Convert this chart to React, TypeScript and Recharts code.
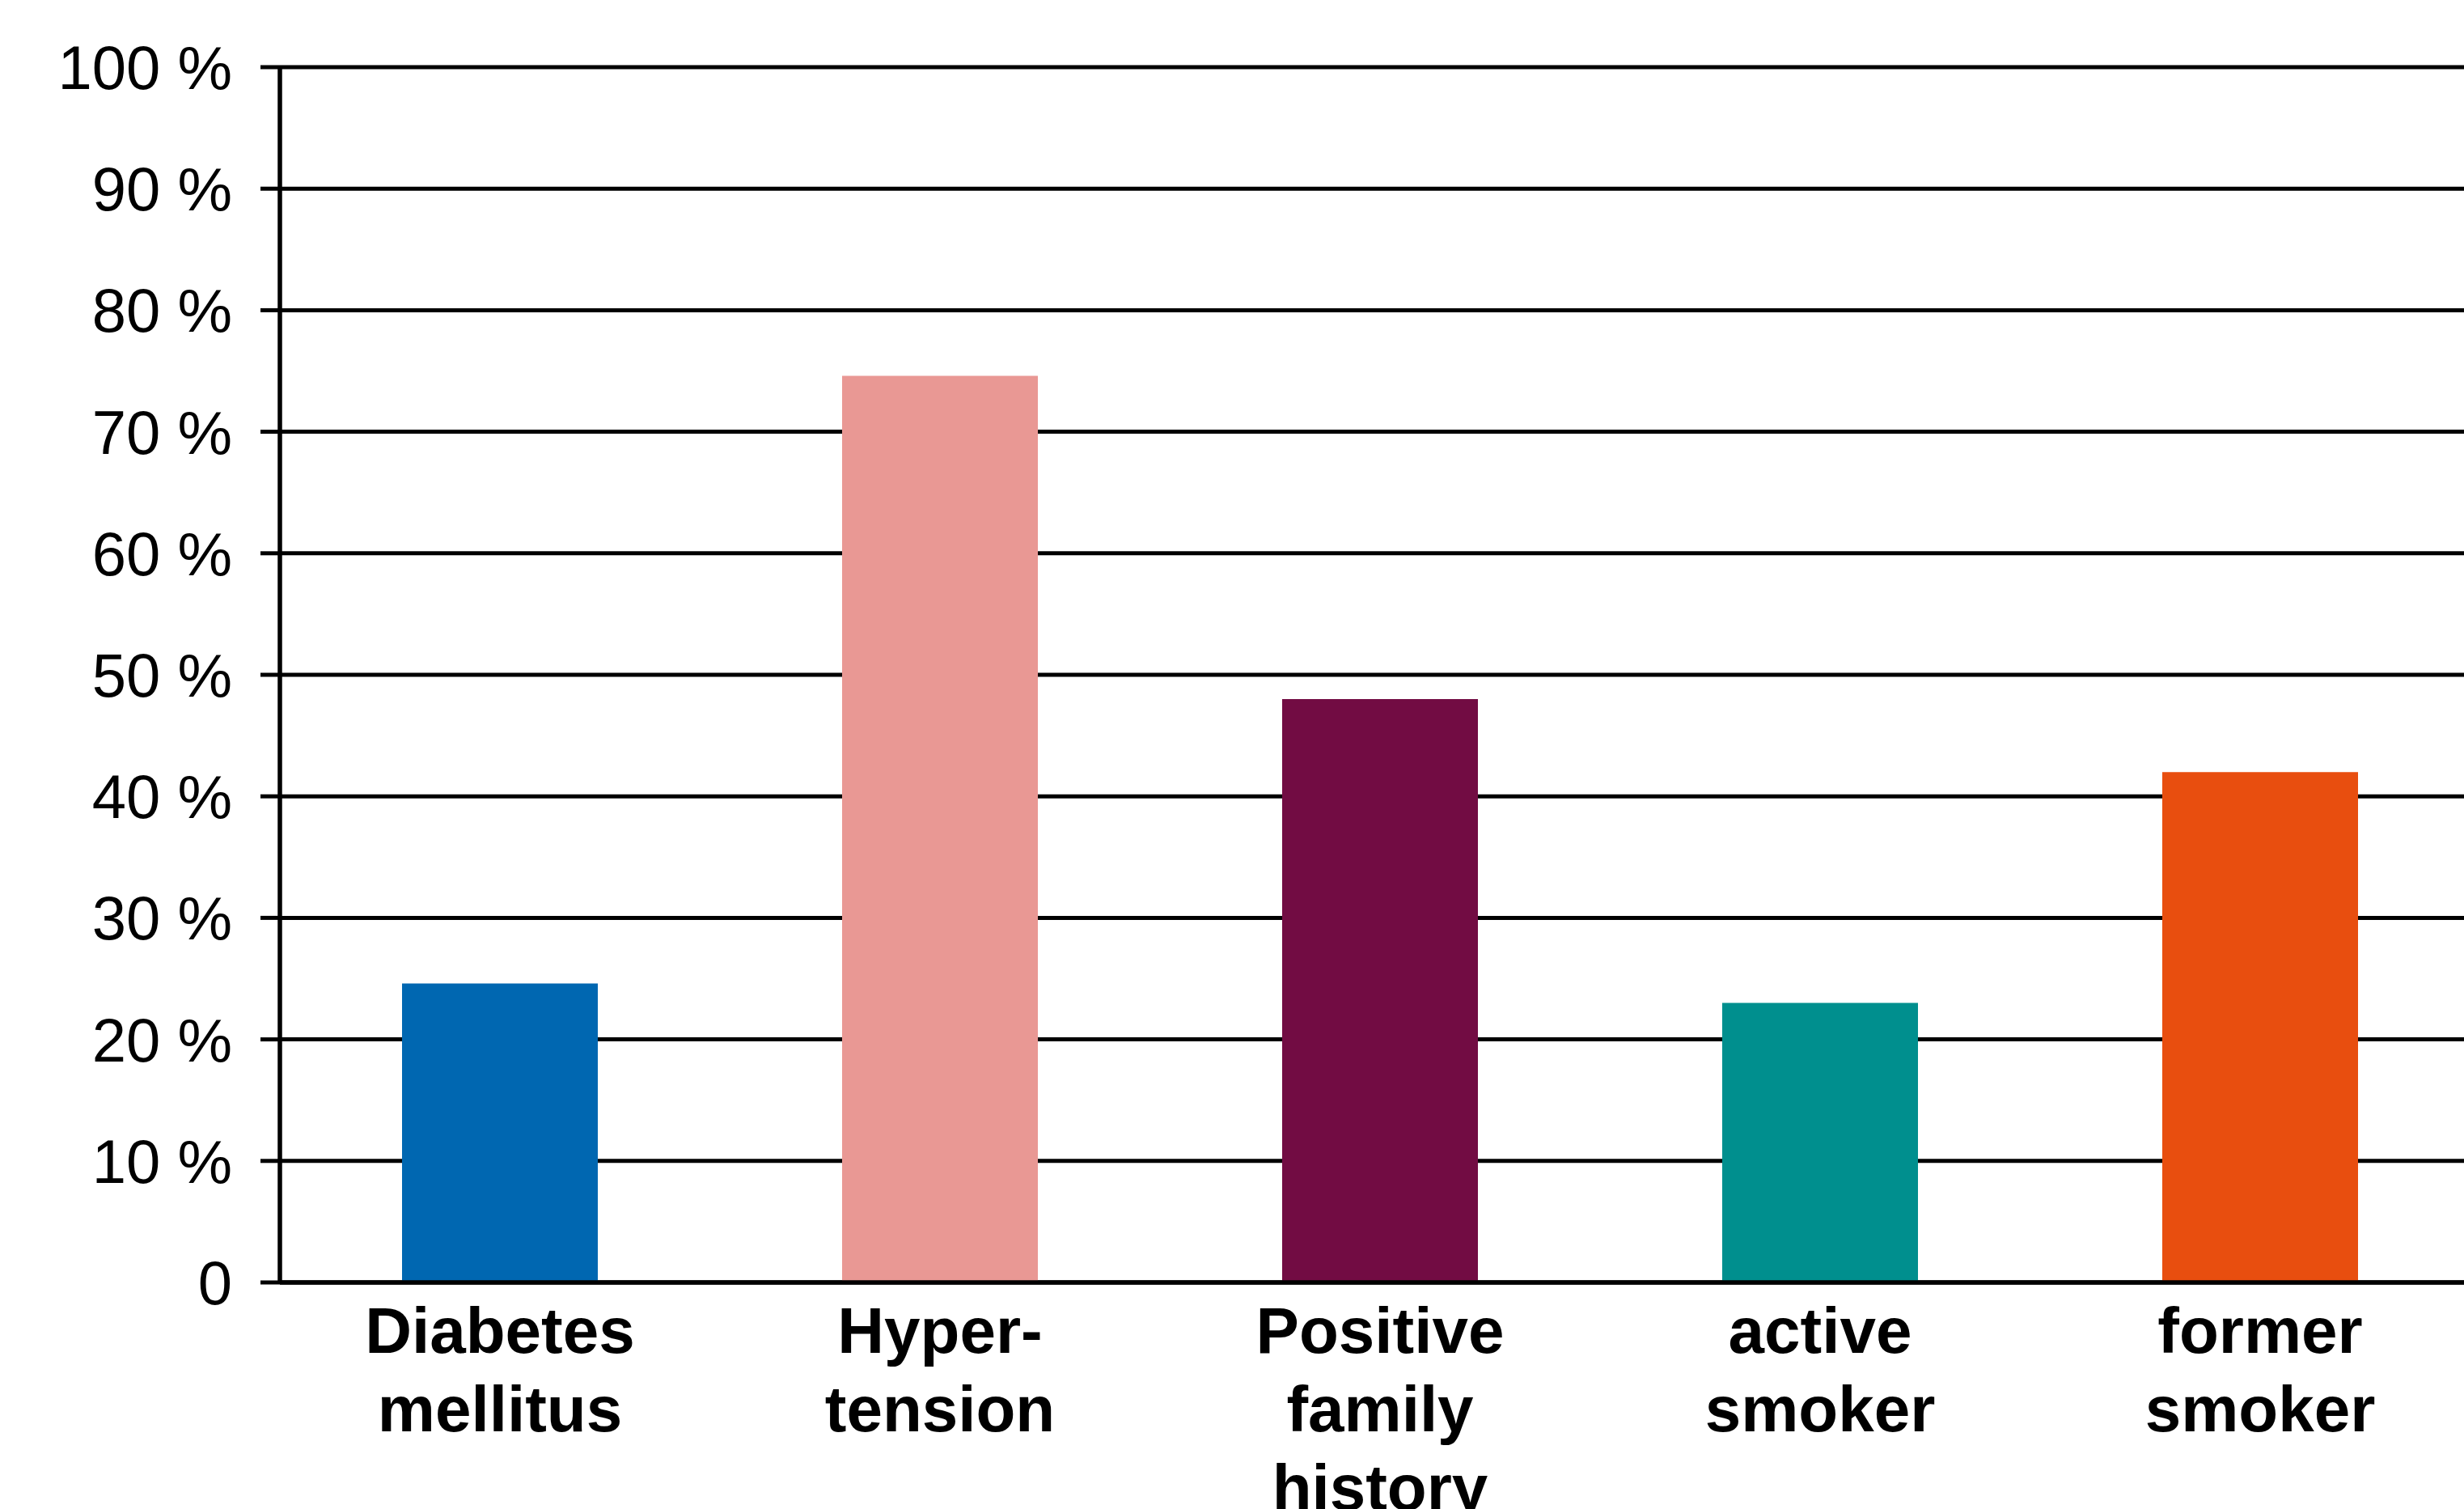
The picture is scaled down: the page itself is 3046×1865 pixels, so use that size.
import React from "react";
import { BarChart, Bar, Cell, XAxis, YAxis, CartesianGrid } from "recharts";

// Cardiovascular risk factors, share of patients (%)
const CATEGORIES = [
  "Diabetes\nmellitus",
  "Hyper-\ntension",
  "Positive\nfamily\nhistory",
  "active\nsmoker",
  "former\nsmoker",
];
const VALUES = [24.6, 74.6, 48, 23, 42];
const COLORS = ["#0067b1", "#e99894", "#720c43", "#008f8e", "#e84e0f"];

const Y_TICKS = [0, 10, 20, 30, 40, 50, 60, 70, 80, 90, 100];
// category boundaries (used for the separator ticks under the x axis)
const BAND_EDGES = [0, 1, 2, 3, 4, 5];

const data = CATEGORIES.map((name, i) => ({ name, value: VALUES[i] }));

const formatPercent = (v: number) => (v === 0 ? "0" : `${v} %`);

function CategoryTick(props: any) {
  const { x, y, payload } = props;
  const lines = String(payload.value).split("\n");
  return (
    <text
      x={x}
      y={y}
      textAnchor="middle"
      fontFamily="'Liberation Sans', Arial, sans-serif"
      fontWeight={700}
      fontSize={80}
      fill="#000"
    >
      {lines.map((line, i) => (
        <tspan key={i} x={x} dy={i === 0 ? 86 : 97}>
          {line}
        </tspan>
      ))}
    </text>
  );
}

export default function App() {
  return (
    <div
      style={{
        position: "absolute",
        left: 0,
        top: 0,
        width: 3046,
        height: 1865,
        overflow: "hidden",
        background: "#fff",
      }}
    >
      <BarChart
        width={3066}
        height={1900}
        data={data}
        margin={{ top: 83, right: 0, bottom: 0, left: 0 }}
      >
        <CartesianGrid
          xAxisId="labels"
          vertical={false}
          stroke="#000"
          strokeWidth={5}
        />
        <XAxis
          xAxisId="bounds"
          type="number"
          domain={[0, 5]}
          ticks={BAND_EDGES}
          interval={0}
          allowDataOverflow
          tick={false}
          tickSize={25}
          height={1}
          axisLine={{ stroke: "#000", strokeWidth: 5.5 }}
          tickLine={{ stroke: "#000", strokeWidth: 4 }}
        />
        <XAxis
          xAxisId="labels"
          dataKey="name"
          type="category"
          interval={0}
          height={314}
          axisLine={false}
          tickLine={false}
          tickSize={0}
          tickMargin={0}
          tick={<CategoryTick />}
        />
        <YAxis
          domain={[0, 100]}
          ticks={Y_TICKS}
          interval={0}
          width={346}
          tickSize={24}
          tickMargin={35}
          tickFormatter={formatPercent}
          axisLine={{ stroke: "#000", strokeWidth: 5.5 }}
          tickLine={{ stroke: "#000", strokeWidth: 5 }}
          tick={{
            fill: "#000",
            fontSize: 76,
            fontFamily: "'Liberation Sans', Arial, sans-serif",
            fontWeight: 400,
          }}
        />
        <Bar
          xAxisId="labels"
          dataKey="value"
          barSize={242}
          isAnimationActive={false}
        >
          {data.map((_, i) => (
            <Cell key={i} fill={COLORS[i]} />
          ))}
        </Bar>
      </BarChart>
    </div>
  );
}
